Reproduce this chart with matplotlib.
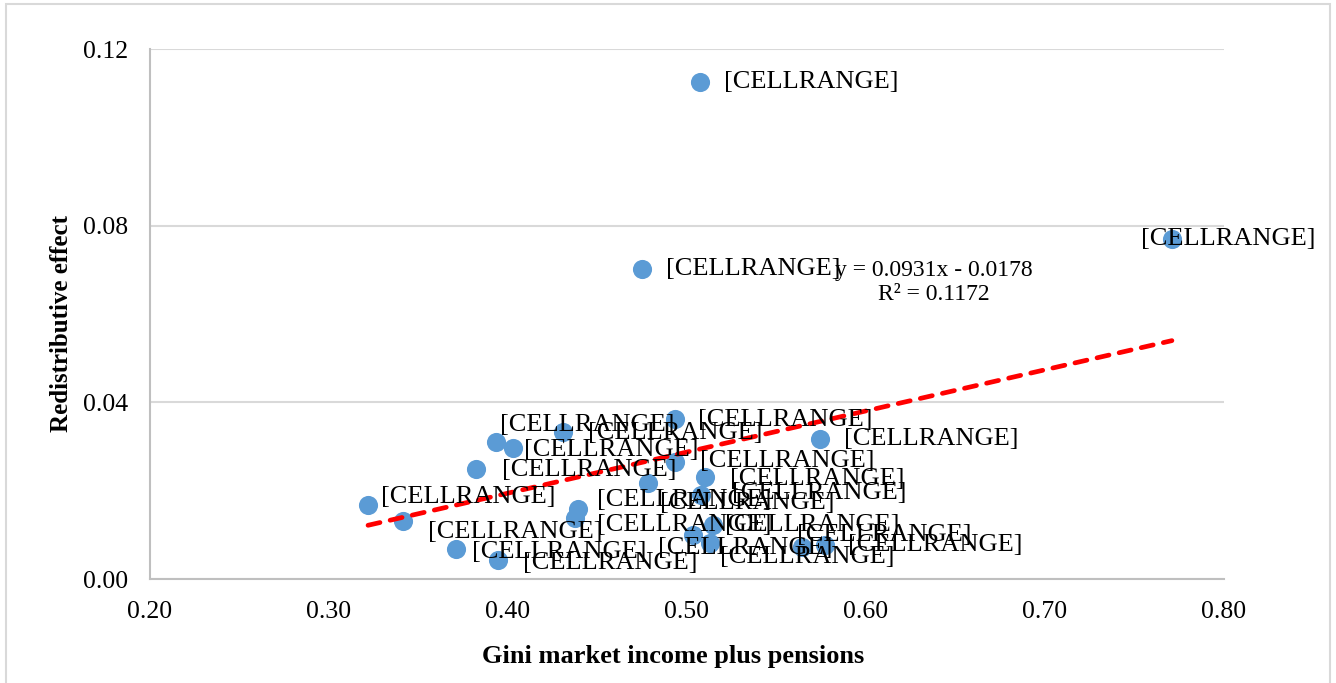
import numpy as np
import matplotlib
matplotlib.use("Agg")
import matplotlib.pyplot as plt
from matplotlib.patches import Rectangle

# data
gini = [0.5073, 0.7709, 0.4749, 0.3218, 0.3413, 0.3709, 0.3944, 0.3821,
        0.3933, 0.4028, 0.4307, 0.4374, 0.4391, 0.4782, 0.4933, 0.4933,
        0.5101, 0.5078, 0.5034, 0.5145, 0.5128, 0.5642, 0.5771, 0.5743]
redist = [0.1126, 0.0769, 0.0703, 0.0167, 0.0131, 0.0068, 0.0043, 0.0249,
          0.0310, 0.0296, 0.0332, 0.0138, 0.0158, 0.0217, 0.0362, 0.0265,
          0.0231, 0.0190, 0.0100, 0.0122, 0.0081, 0.0072, 0.0077, 0.0317]
point_labels = ["[CELLRANGE]"] * len(gini)

slope = 0.0931
intercept = -0.0178
r2 = 0.1172

x_ticks = [0.20, 0.30, 0.40, 0.50, 0.60, 0.70, 0.80]
y_ticks = [0.00, 0.04, 0.08, 0.12]

# label offsets in pixels (dx, dy up) -- Excel moved some around
label_off = [(24, 0), (-31, 0), (24, 0), (13, 8), (25, -11), (16, -3),
             (25, -3), (26, -1), (4, 17), (11, -2), (25, -1), (22, -7),
             (19, 9), (12, -20), (23, -1), (25, 1), (25, -2), (31, 2),
             (-35, -13), (12, 0), (10, -14), (-5, 12), (23, 0), (24, 0)]

plt.rcParams['font.family'] = ['Liberation Serif', 'DejaVu Serif']

fig = plt.figure(figsize=(13.36, 6.83), dpi=100)
ax = fig.add_axes([150 / 1336, 1 - 579 / 683, 1074 / 1336, 530 / 683])

ax.scatter(gini, redist, s=190, color="#5B9BD5", zorder=3, linewidths=0)

xs = np.array([min(gini), max(gini)])
ax.plot(xs, slope * xs + intercept, color="#FF0000", lw=3.4,
        linestyle=(0, (2.6, 2.2)), dash_capstyle="round", zorder=4)

for xv, yv, lab, (dx, dy) in zip(gini, redist, point_labels, label_off):
    ax.annotate(lab, (xv, yv), xytext=(dx, dy), textcoords="offset pixels",
                ha="left", va="center", fontsize=19, color="#000000",
                zorder=5, annotation_clip=False)

ax.text(0.6380, 0.0671, "y = %.4fx - %.4f\nR² = %.4f" % (slope, -intercept, r2),
        ha="center", va="center", fontsize=17, linespacing=1.2, zorder=5)

ax.set_xlim(0.20, 0.80)
ax.set_ylim(0.00, 0.12)
ax.set_xticks(x_ticks)
ax.set_yticks(y_ticks)
ax.set_xticklabels(["%.2f" % v for v in x_ticks])
ax.set_yticklabels(["%.2f" % v for v in y_ticks])
ax.tick_params(length=0, labelsize=18.5, pad=16)
ax.grid(axis="y", color="#D9D9D9", lw=1.5)
ax.set_axisbelow(True)
for s in ["top", "right"]:
    ax.spines[s].set_visible(False)
for s in ["left", "bottom"]:
    ax.spines[s].set_color("#BFBFBF")
    ax.spines[s].set_linewidth(1.5)

fig.text(673 / 1336, 1 - 656 / 683, "Gini market income plus pensions",
         ha="center", va="center", fontsize=19, fontweight="bold")
fig.text(62 / 1336, 1 - 324 / 683, "Redistributive effect", rotation=90,
         ha="center", va="center", fontsize=18, fontweight="bold")

# chart border
fig.patches.append(Rectangle((6 / 1336, -0.05), 1324 / 1336, 1.05 - 4 / 683,
                             transform=fig.transFigure, fill=False,
                             edgecolor="#D9D9D9", lw=1.5))

fig.savefig("out.png", dpi=100)
